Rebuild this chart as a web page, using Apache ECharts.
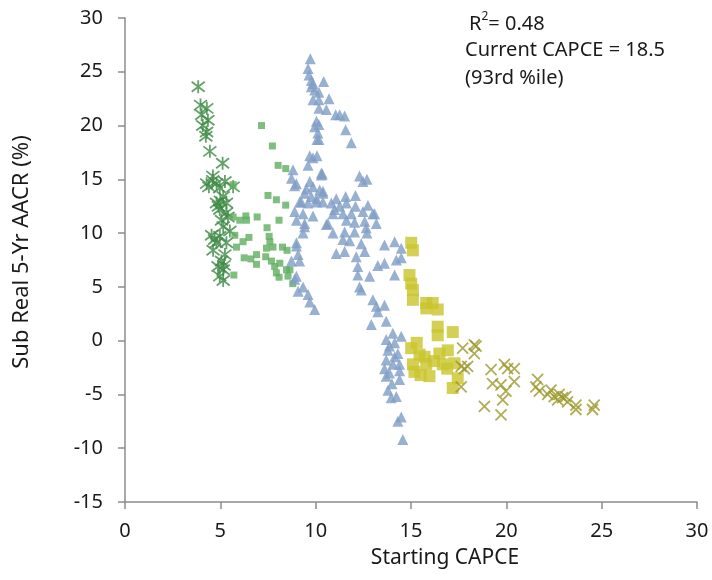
<!DOCTYPE html>
<html>
<head>
<meta charset="utf-8">
<script src="https://cdn.jsdelivr.net/npm/echarts@6/dist/echarts.min.js"></script>
<style>
  html, body { margin: 0; padding: 0; background: #fff; }
  #chart { width: 712px; height: 580px; }
</style>
</head>
<body>
<div id="chart"></div>
<script>
// Starting CAPCE (x) vs subsequent real 5-yr AACR % (y), one array per regime
const darkGreenStars = [
  [3.84,23.6],[3.96,21.9],[4.29,21.6],[4.02,21.0],[4.35,20.5],[4.08,20.0],[4.28,19.4],[4.24,19.0],
  [4.45,17.6],[5.12,16.5],[4.61,15.3],[4.28,14.6],[4.80,14.6],[5.24,14.8],[5.67,14.3],[4.97,14.2],
  [5.15,13.4],[4.80,12.8],[5.32,12.8],[4.97,12.2],[5.32,11.9],[5.06,11.2],[5.15,10.6],[4.54,9.8],
  [4.97,9.7],[4.80,9.1],[5.32,9.1],[4.62,8.4],[5.24,8.0],[5.06,7.4],[4.88,6.9],[5.15,6.6],
  [4.97,6.0],[5.15,5.6],[4.60,14.9],[5.00,13.0],[5.40,11.5],[4.70,9.4],[5.20,7.0],[4.90,12.5],
  [5.50,10.2],[4.40,14.3]
];
const greenSquares = [
  [7.16,20.0],[7.73,18.1],[8.03,16.3],[8.43,16.0],[5.67,14.5],[7.50,13.5],[7.94,13.1],[8.43,12.6],
  [6.34,11.6],[6.93,11.5],[6.02,11.2],[6.37,11.2],[5.67,11.5],[8.08,11.2],[7.45,10.5],[7.56,9.7],
  [5.76,9.8],[6.19,9.2],[5.85,8.7],[7.42,8.6],[7.76,8.7],[8.26,8.7],[8.50,8.4],[6.25,7.7],
  [6.60,7.6],[6.90,8.0],[6.90,7.1],[7.38,7.8],[7.68,7.4],[7.85,6.9],[8.12,7.2],[7.94,6.3],
  [8.08,5.9],[8.47,6.6],[8.55,6.0],[5.71,6.1],[8.65,6.6],[6.50,9.6],[8.80,5.3],[7.60,9.2]
];
const blueTriangles = [
  [9.72,26.2],[9.60,25.3],[9.65,24.7],[9.77,24.2],[9.86,23.9],[10.42,24.1],[9.95,23.3],[9.77,23.6],
  [10.17,23.1],[9.86,22.4],[10.17,22.4],[10.70,22.5],[10.17,21.6],[10.56,21.5],[11.05,21.0],[11.26,21.0],
  [11.52,20.9],[10.04,20.4],[10.17,20.1],[9.95,19.9],[11.57,19.6],[10.12,19.3],[10.07,18.7],[10.17,18.7],
  [11.87,18.4],[9.69,17.2],[10.07,17.2],[9.86,17.0],[9.60,16.3],[10.30,15.4],[8.81,15.9],[8.73,15.1],
  [8.90,14.4],[9.69,14.8],[12.30,15.3],[12.69,15.0],[9.51,14.1],[9.86,14.3],[10.21,14.0],[10.38,13.7],
  [9.42,13.7],[9.77,13.4],[10.04,13.2],[11.08,13.2],[11.57,13.4],[12.09,13.5],[9.16,12.9],[9.60,12.8],
  [10.04,12.9],[10.38,12.9],[10.82,12.8],[11.26,12.5],[11.61,12.8],[12.09,12.5],[12.74,12.6],[8.90,12.0],
  [9.34,11.8],[9.86,11.6],[10.91,11.8],[11.43,11.8],[11.87,11.8],[12.48,12.0],[13.09,11.8],[8.99,11.2],
  [9.42,10.9],[10.64,10.9],[11.61,11.2],[12.04,11.0],[12.57,11.1],[13.18,10.9],[9.34,10.0],[11.52,10.1],
  [12.04,10.1],[12.69,10.0],[8.99,9.1],[11.78,9.3],[12.39,9.0],[13.61,8.9],[14.14,9.2],[12.48,14.8],
  [10.99,12.2],[13.00,11.8],[12.65,10.5],[11.08,8.1],[11.52,8.3],[12.13,7.8],[12.57,8.3],[14.49,8.6],
  [13.26,7.0],[13.61,7.2],[14.23,7.5],[14.49,7.7],[12.21,6.9],[12.21,6.1],[14.14,6.1],[12.83,6.0],
  [12.30,5.0],[12.39,4.7],[13.00,3.8],[13.18,3.2],[13.61,3.3],[13.26,2.7],[13.70,1.8],[12.92,1.5],
  [14.05,0.7],[14.49,0.4],[13.70,0.1],[14.14,-0.2],[13.79,-0.9],[14.31,-1.2],[13.70,-1.8],[14.05,-2.2],
  [14.40,-2.2],[13.61,-2.6],[13.87,-3.0],[14.40,-3.6],[13.79,-4.6],[14.23,-5.2],[13.96,-5.3],[14.49,-7.1],
  [14.31,-7.5],[14.57,-9.2],[14.14,-1.5],[13.87,-0.5],[14.40,-2.8],[13.70,-3.3],[14.00,-4.0],
  [10.30,15.6],[8.99,14.6],[9.25,12.9],[10.56,10.8],[9.42,10.6],[8.99,8.8],[9.08,8.0],[8.73,7.4],
  [9.16,7.4],[8.99,6.0],[8.90,5.7],[9.34,5.0],[9.08,4.6],[9.60,4.3],[9.69,3.6],[9.95,2.9],
  [10.35,15.5],[10.38,13.9],[11.43,9.4],[10.91,10.0]
];
const yellowSquares = [
  [15.01,9.1],[15.10,8.4],[14.92,6.1],[15.01,5.3],[15.10,4.7],[15.10,3.8],[15.80,3.5],[16.14,3.5],
  [16.40,2.9],[15.80,3.0],[16.40,1.3],[16.40,0.5],[17.19,0.8],[15.01,-0.7],[15.45,-1.3],[15.71,-1.5],
  [15.10,-2.2],[15.80,-2.2],[15.18,-2.9],[15.97,-3.3],[16.49,-1.2],[16.93,-0.9],[16.67,-2.2],[17.28,-2.1],
  [17.45,-3.5],[17.19,-4.4],[15.30,-0.2],[16.20,-1.9],[16.90,-2.6],[15.50,-3.2]
];
const oliveCrosses = [
  [17.71,-0.7],[18.41,-0.5],[18.32,-1.2],[17.97,-2.4],[17.63,-2.4],[17.63,-4.3],[19.20,-2.7],[19.90,-2.2],
  [20.42,-2.6],[20.07,-2.6],[19.28,-4.0],[19.72,-4.1],[20.42,-3.8],[19.98,-4.7],[19.81,-5.5],[18.85,-6.1],
  [19.72,-6.9],[21.64,-3.6],[21.55,-4.3],[21.73,-4.7],[22.34,-4.6],[22.51,-5.2],[22.69,-5.5],[22.95,-5.3],
  [23.21,-5.7],[23.65,-6.0],[23.65,-6.4],[24.61,-6.0],[24.52,-6.4],[22.17,-5.0],[22.77,-5.0],[23.12,-5.2],
  [18.32,-0.4],[17.80,-2.6]
];

const FONT = 'Noto Sans';
const TEXT = '#1a1a1a';
const axisGray = '#8c8c8c';

const chart = echarts.init(document.getElementById('chart'), null, { renderer: 'canvas' });

const starPath = 'path://M0,0L10,10M10,0L0,10M5,-1.5L5,11.5';
const crossPath = 'path://M0,0L10,10M10,0L0,10';

chart.setOption({
  animation: false,
  backgroundColor: '#ffffff',
  grid: { left: 125, right: 15, top: 18, bottom: 78, containLabel: false },
  xAxis: {
    type: 'value', min: 0, max: 30, interval: 5,
    axisLine: { onZero: false, lineStyle: { color: axisGray, width: 1.5 } },
    axisTick: { show: true, length: 7, lineStyle: { color: axisGray, width: 1.5 } },
    axisLabel: { fontFamily: FONT, fontSize: 20, color: TEXT, margin: 19 },
    splitLine: { show: false }
  },
  yAxis: {
    type: 'value', min: -15, max: 30, interval: 5,
    axisLine: { show: true, onZero: false, lineStyle: { color: axisGray, width: 1.5 } },
    axisTick: { show: true, length: 7, lineStyle: { color: axisGray, width: 1.5 } },
    axisLabel: { fontFamily: FONT, fontSize: 20, color: TEXT, margin: 22 },
    splitLine: { show: false }
  },
  series: [
    {
      type: 'scatter', data: darkGreenStars, symbol: starPath, symbolSize: 13,
      itemStyle: { color: 'rgba(0,0,0,0)', borderColor: '#3f8a45', borderWidth: 1.8 }
    },
    {
      type: 'scatter', data: greenSquares, symbol: 'rect', symbolSize: 7,
      itemStyle: { color: '#5fae5f' }
    },
    {
      type: 'scatter', data: blueTriangles, symbol: 'triangle', symbolSize: 11,
      itemStyle: { color: '#7f9ec5' }
    },
    {
      type: 'scatter', data: yellowSquares, symbol: 'rect', symbolSize: 12,
      itemStyle: { color: '#c9c42c' }
    },
    {
      type: 'scatter', data: oliveCrosses, symbol: crossPath, symbolSize: 11,
      itemStyle: { color: 'rgba(0,0,0,0)', borderColor: '#9b982c', borderWidth: 1.8 }
    }
  ],
  graphic: [
    // axis titles
    {
      type: 'text', x: 445, y: 558,
      style: { text: 'Starting CAPCE', fontFamily: FONT, fontSize: 21, fill: TEXT,
               textAlign: 'center', textVerticalAlign: 'middle' }
    },
    {
      type: 'text', x: 22, y: 252, rotation: Math.PI / 2,
      style: { text: 'Sub Real 5-Yr AACR (%)', fontFamily: FONT, fontSize: 22, fill: TEXT,
               textAlign: 'center', textVerticalAlign: 'middle' }
    },
    // fit statistics
    {
      type: 'text', left: 469, top: 11,
      style: {
        text: '{a|R}{s|2}{a|= 0.48}',
        rich: {
          a: { fontFamily: FONT, fontSize: 20, fill: TEXT, lineHeight: 27 },
          s: { fontFamily: FONT, fontSize: 12, fill: TEXT, verticalAlign: 'top', lineHeight: 14 }
        }
      }
    },
    {
      type: 'text', left: 465, top: 40,
      style: { text: 'Current CAPCE = 18.5', fontFamily: FONT, fontSize: 20, fill: TEXT }
    },
    {
      type: 'text', left: 465, top: 68,
      style: { text: '(93rd %ile)', fontFamily: FONT, fontSize: 20, fill: TEXT }
    }
  ]
});
</script>
</body>
</html>
